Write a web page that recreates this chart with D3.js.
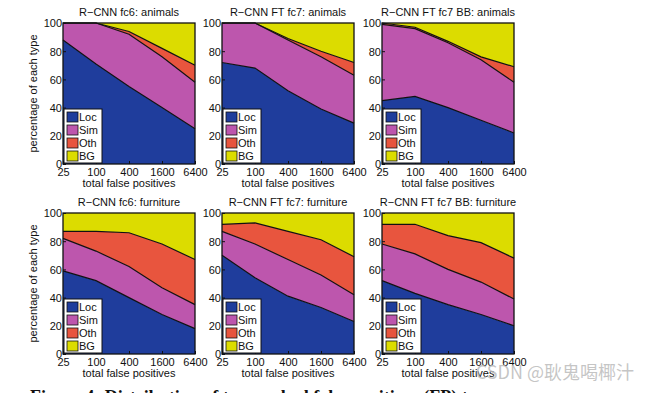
<!DOCTYPE html>
<html>
<head>
<meta charset="utf-8">
<script src="https://cdn.jsdelivr.net/npm/d3@7"></script>
<style>
  body { margin: 0; background: #fff; }
  svg { display: block; font-family: "Liberation Sans", Arial, sans-serif; }
</style>
</head>
<body>
<div id="chart"></div>
<script>
// x positions (total false positives, log scale)
const fpTicks = [25, 100, 400, 1600, 6400];
const yTicks = [0, 20, 40, 60, 80, 100];
const types = ["Loc", "Sim", "Oth", "BG"];
const colors = ["#1f3d9c", "#bd56ad", "#e8553e", "#dcdc00"];

const titles = [
    "R\u2212CNN fc6: animals", "R\u2212CNN FT fc7: animals", "R\u2212CNN FT fc7 BB: animals",
    "R\u2212CNN fc6: furniture", "R\u2212CNN FT fc7: furniture", "R\u2212CNN FT fc7 BB: furniture"
];

// percentage of each type (BG is the remainder up to 100)
const locVals = [
    [88, 71, 55, 40, 25],
    [72, 68, 52, 39, 29],
    [45, 48, 40, 31, 22],
    [59, 52, 40, 28, 18],
    [70, 54, 41, 33, 23],
    [52, 43, 35, 28, 20]
];
const simVals = [
    [12, 29, 37, 36, 33],
    [28, 32, 36, 37, 34],
    [54, 48, 46, 43, 36],
    [23, 21, 22, 19, 17],
    [17, 24, 26, 23, 19],
    [26, 28, 25, 23, 19]
];
const othVals = [
    [0, 0, 2, 6, 12],
    [0, 0, 1, 4, 9],
    [1, 1, 1, 2, 11],
    [5, 14, 24, 31, 32],
    [5, 15, 20, 25, 27],
    [14, 21, 24, 28, 29]
];

const W = 650, H = 393;
const pw = 132, ph = 141;
const colX = [63, 222, 382], rowY = [23, 213];

const svg = d3.select('#chart').append('svg')
    .attr('width', W).attr('height', H);

const xScale = d3.scaleLog().base(4).domain([25, 6400]).range([0, pw]);
const yScale = d3.scaleLinear().domain([0, 100]).range([ph, 0]);

const area = d3.area()
    .x(d => xScale(d.data.fp))
    .y0(d => yScale(d[0]))
    .y1(d => yScale(d[1]));

const edge = d3.line()
    .x(d => xScale(d.data.fp))
    .y(d => yScale(d[1]));

titles.forEach((title, i) => {
    const col = i % 3, row = Math.floor(i / 3);
    const g = svg.append('g')
        .attr('transform', `translate(${colX[col]},${rowY[row]})`);

    const rows = fpTicks.map((fp, j) => ({
        fp: fp,
        Loc: locVals[i][j],
        Sim: simVals[i][j],
        Oth: othVals[i][j],
        BG: 100 - locVals[i][j] - simVals[i][j] - othVals[i][j]
    }));
    const stacked = d3.stack().keys(types)(rows);

    g.selectAll('path.area')
        .data(stacked)
        .join('path')
        .attr('class', 'area')
        .attr('d', area)
        .attr('fill', (d, k) => colors[k]);

    // black boundary lines between layers
    g.selectAll('path.edge')
        .data(stacked.slice(0, 3))
        .join('path')
        .attr('class', 'edge')
        .attr('d', edge)
        .attr('fill', 'none')
        .attr('stroke', '#111')
        .attr('stroke-width', 1.2);

    // frame
    g.append('rect')
        .attr('width', pw).attr('height', ph)
        .attr('fill', 'none').attr('stroke', '#111').attr('stroke-width', 1.3);

    // axes (matlab style, ticks inside)
    const yAxis = d3.axisLeft(yScale).tickValues(yTicks).tickSize(-3).tickPadding(1);
    const xAxis = d3.axisBottom(xScale).tickValues(fpTicks).tickFormat(d3.format('d')).tickSize(-3).tickPadding(4);

    const ya = g.append('g').call(yAxis);
    const xa = g.append('g').attr('transform', `translate(0,${ph})`).call(xAxis);
    [ya, xa].forEach(a => {
        a.select('.domain').remove();
        a.selectAll('line').attr('stroke', '#111');
        a.selectAll('text').attr('font-size', 11).attr('fill', '#111');
    });
    ya.selectAll('text').attr('dy', '0.35em');

    g.append('text')
        .attr('x', pw / 2).attr('y', -7)
        .attr('text-anchor', 'middle')
        .attr('font-size', 11).attr('fill', '#111')
        .text(title);

    g.append('text')
        .attr('x', pw / 2).attr('y', ph + 23)
        .attr('text-anchor', 'middle')
        .attr('font-size', 11).attr('fill', '#111')
        .text('total false positives');

    if (col === 0) {
        g.append('text')
            .attr('transform', `translate(-26,${ph / 2}) rotate(-90)`)
            .attr('text-anchor', 'middle')
            .attr('font-size', 11).attr('fill', '#111')
            .text('percentage of each type');
    }

    // legend, bottom-left corner
    const lg = g.append('g').attr('transform', `translate(1,${ph - 55})`);
    lg.append('rect')
        .attr('width', 38).attr('height', 54)
        .attr('fill', '#fff').attr('stroke', '#111').attr('stroke-width', 1);
    types.forEach((t, k) => {
        lg.append('rect')
            .attr('x', 3).attr('y', 3 + k * 13)
            .attr('width', 11).attr('height', 10)
            .attr('fill', colors[k]).attr('stroke', '#111').attr('stroke-width', 0.8);
        lg.append('text')
            .attr('x', 15).attr('y', 12 + k * 13)
            .attr('font-size', 11).attr('fill', '#111')
            .text(t);
    });
});

// caption cut off at the bottom of the image
svg.append('text')
    .attr('x', 30).attr('y', 403)
    .attr('font-family', '"Liberation Serif", "Times New Roman", serif')
    .attr('font-weight', 'bold').attr('font-size', 18).attr('fill', '#111')
    .text('Figure 4: Distribution of top-ranked false positives (FP) t');

// watermark
svg.append('text')
    .attr('x', 634).attr('y', 379)
    .attr('text-anchor', 'end')
    .attr('font-family', '"Noto Sans CJK SC", "Noto Sans", sans-serif')
    .attr('font-size', 18).attr('fill', '#bbb').attr('fill-opacity', 0.85)
    .text('CSDN @耿鬼喝椰汁');
</script>
</body>
</html>
